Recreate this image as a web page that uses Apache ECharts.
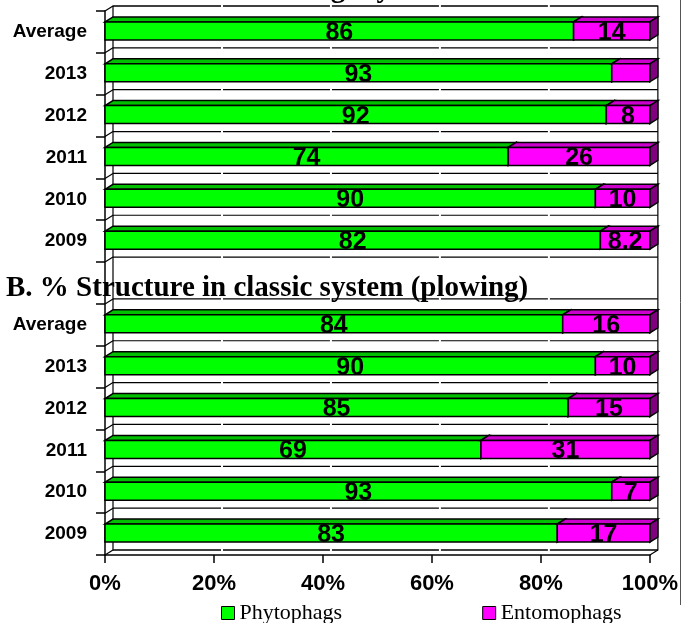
<!DOCTYPE html>
<html>
<head>
<meta charset="utf-8">
<script src="https://cdn.jsdelivr.net/npm/echarts@6/dist/echarts.min.js"></script>
<style>
  html, body { margin: 0; padding: 0; background: #fff; }
  #chart { width: 681px; height: 623px; }
</style>
</head>
<body>
<div id="chart"></div>
<script>
// Rows of each panel, top to bottom
const categories = ['Average', '2013', '2012', '2011', '2010', '2009'];

// A. no-tillage system
const phytophagsA = [86, 93, 92, 74, 90, 82];
const entomophagsA = [14, 7, 8, 26, 10, 8.2];
const entoLabelledA = [true, false, true, true, true, true];

// B. classic system (plowing)
const phytophagsB = [84, 90, 85, 69, 93, 83];
const entomophagsB = [16, 10, 15, 31, 7, 17];
const entoLabelledB = [true, true, true, true, true, true];

const xTicks = [0, 20, 40, 60, 80, 100];

const titleA = 'A. % Structure in no-tillage system';
const titleB = 'B. % Structure in classic system (plowing)';
const seriesNames = ['Phytophags', 'Entomophags'];

// category slots: panel A, one empty slot, panel B
const yKeys = [].concat(
  categories.map(c => 'A|' + c),
  ['gap|'],
  categories.map(c => 'B|' + c)
);
const rowOffsetB = categories.length + 1;

// 100 % stacked shares
function buildRows(phyto, ento, labelled, offset) {
  const ph = [], en = [];
  phyto.forEach((p, i) => {
    const e = ento[i];
    const total = p + e;
    const pShare = p / total * 100;
    ph.push({ value: [0, pShare, offset + i], label: String(p) });
    en.push({ value: [pShare, 100, offset + i], label: labelled[i] ? String(e) : '' });
  });
  return [ph, en];
}
const [phA, enA] = buildRows(phytophagsA, entomophagsA, entoLabelledA, 0);
const [phB, enB] = buildRows(phytophagsB, entomophagsB, entoLabelledB, rowOffsetB);

const DX = 8, DY = 5;
const LINE = '#000';

const faceColors = {
  Phytophags: { front: '#00ff00', top: '#00c000', side: '#008000' },
  Entomophags: { front: '#ff00ff', top: '#cc00cc', side: '#800080' }
};

function barRenderer(name, labels) {
  const col = faceColors[name];
  return function (params, api) {
    const start = api.value(0), end = api.value(1), row = api.value(2);
    const p0 = api.coord([start, row]);
    const p1 = api.coord([end, row]);
    const band = api.size([0, 1])[1];
    const h = band * 0.43;
    const cy = p0[1] - 1;
    const top = cy - h / 2, bottom = cy + h / 2;
    const x0 = p0[0], x1 = p1[0];
    const stroke = { stroke: LINE, lineWidth: 1.5 };
    const children = [
      { type: 'polygon', shape: { points: [[x0, top], [x0 + DX, top - DY], [x1 + DX, top - DY], [x1, top]] },
        style: Object.assign({ fill: col.top }, stroke) },
      { type: 'polygon', shape: { points: [[x1, top], [x1 + DX, top - DY], [x1 + DX, bottom - DY], [x1, bottom]] },
        style: Object.assign({ fill: col.side }, stroke) },
      { type: 'rect', shape: { x: x0, y: top, width: x1 - x0, height: h },
        style: Object.assign({ fill: col.front }, stroke) }
    ];
    const txt = labels[params.dataIndex];
    if (txt) {
      children.push({
        type: 'text', z2: 10,
        style: { text: txt, x: (x0 + x1) / 2, y: cy + 2, align: 'center', verticalAlign: 'middle',
          fill: '#000', font: 'bold 25px "Liberation Sans", Arial, sans-serif' }
      });
    }
    return { type: 'group', children: children };
  };
}

// walls, gridlines and floor of the 3D frame
function frameRenderer(params, api) {
  const band = api.size([0, 1])[1];
  const n = yKeys.length;
  const xL = api.coord([0, 0])[0];
  const xR = api.coord([100, 0])[0];
  const yTop = api.coord([0, 0])[1] - band / 2;
  const yBot = yTop + band * n;
  const children = [];
  // back wall
  children.push({ type: 'rect', shape: { x: xL + DX, y: yTop - DY, width: xR - xL, height: yBot - yTop },
    style: { fill: '#fff', stroke: LINE, lineWidth: 1.2 } });
  for (let i = 0; i <= n; i++) {
    const yb = yTop + band * i;
    // back wall gridline
    children.push({ type: 'line', shape: { x1: xL + DX, y1: yb - DY, x2: xR + DX, y2: yb - DY },
      style: { stroke: LINE, lineWidth: 1.2 } });
    // side wall edge
    children.push({ type: 'line', shape: { x1: xL, y1: yb, x2: xL + DX, y2: yb - DY },
      style: { stroke: LINE, lineWidth: 1.2 } });
    // value gridlines on the back wall
    xTicks.slice(1, -1).forEach(t => {
      const gx = api.coord([t, 0])[0] + DX;
      children.push({ type: 'rect', shape: { x: gx - 1, y: yb - DY - 1.5, width: 2, height: 3 },
        style: { fill: '#fff' } });
    });
  }
  // floor right edge
  children.push({ type: 'line', shape: { x1: xR, y1: yBot, x2: xR + DX, y2: yBot - DY },
    style: { stroke: LINE, lineWidth: 1.2 } });
  return { type: 'group', children: children };
}

const chart = echarts.init(document.getElementById('chart'), null, { renderer: 'canvas' });

chart.setOption({
  backgroundColor: '#fff',
  animation: false,
  grid: { left: 105, right: 31, top: 11, bottom: 68 },
  xAxis: {
    type: 'value', min: 0, max: 100, interval: 20,
    axisLine: { show: true, lineStyle: { color: '#000', width: 1.5 } },
    axisTick: { show: true, length: 8, lineStyle: { color: '#000', width: 1.5 } },
    splitLine: { show: false },
    axisLabel: { formatter: '{value}%', color: '#000', fontWeight: 'bold', fontSize: 22,
      fontFamily: '"Liberation Sans", Arial, sans-serif', margin: 18 }
  },
  yAxis: {
    type: 'category', inverse: true, data: yKeys,
    axisLine: { show: true, lineStyle: { color: '#000', width: 1.5 } },
    axisTick: { show: true, length: 9, lineStyle: { color: '#000', width: 1.5 } },
    splitLine: { show: false },
    axisLabel: { formatter: v => v.split('|')[1], color: '#000', fontWeight: 'bold', fontSize: 19,
      fontFamily: '"Liberation Sans", Arial, sans-serif', margin: 18 }
  },
  legend: {
    data: seriesNames, left: 216, top: 597, icon: 'rect', itemWidth: 13, itemHeight: 13, itemGap: 140,
    itemStyle: { borderColor: '#000', borderWidth: 1 },
    textStyle: { color: '#000', fontSize: 22, fontFamily: '"Liberation Serif", "Times New Roman", serif' }
  },
  series: [
    { type: 'custom', name: 'frame', data: [[0, 0, 0]], renderItem: frameRenderer, clip: false, z: 1, silent: true },
    { type: 'custom', name: 'Phytophags', color: '#00ff00', z: 2, clip: false,
      data: phA.concat(phB).map(d => d.value),
      renderItem: barRenderer('Phytophags', phA.concat(phB).map(d => d.label)) },
    { type: 'custom', name: 'Entomophags', color: '#ff00ff', z: 3, clip: false,
      data: enA.concat(enB).map(d => d.value),
      renderItem: barRenderer('Entomophags', enA.concat(enB).map(d => d.label)) }
  ],
  graphic: [
    { type: 'text', left: 6, top: 274, z: 100,
      style: { text: titleB, fill: '#000', font: 'bold 29px "Liberation Serif", "Times New Roman", serif' } },
    { type: 'text', left: 13, top: -25, z: 100,
      style: { text: titleA, fill: '#000', font: 'bold 29px "Liberation Serif", "Times New Roman", serif' } },
    { type: 'line', z: 100, shape: { x1: 680.5, y1: 0, x2: 680.5, y2: 605 },
      style: { stroke: '#555', lineWidth: 1 } }
  ]
});
</script>
</body>
</html>
